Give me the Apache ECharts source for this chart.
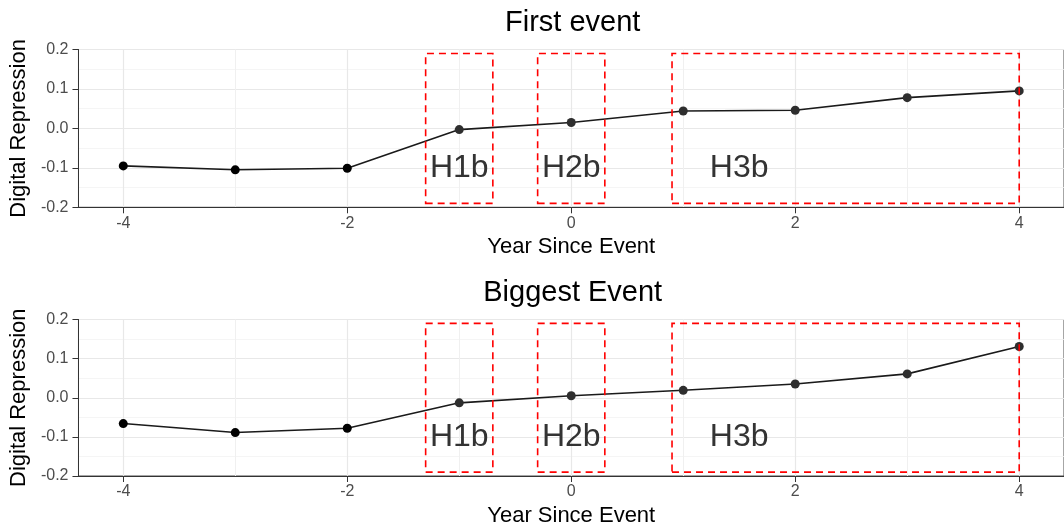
<!DOCTYPE html>
<html>
<head>
<meta charset="utf-8">
<script src="https://cdn.jsdelivr.net/npm/echarts@6/dist/echarts.min.js"></script>
<style>
html,body{margin:0;padding:0;background:#fff;}
#chart{width:1064px;height:528px;}
</style>
</head>
<body>
<div id="chart"></div>
<script>
// ---- data ----
const years = [-4, -3, -2, -1, 0, 1, 2, 3, 4];
const firstEvent = [-0.095, -0.105, -0.101, -0.003, 0.015, 0.044, 0.046, 0.078, 0.095];
const biggestEvent = [-0.066, -0.089, -0.078, -0.013, 0.005, 0.019, 0.035, 0.061, 0.131];
const panelTitles = ['First event', 'Biggest Event'];
const xTickValues = [-4, -2, 0, 2, 4];
const xMinorGrid = [-3, -1, 1, 3];
const yTickLabels = ['-0.2', '-0.1', '0.0', '0.1', '0.2'];
const boxLabels = ['H1b', 'H2b', 'H3b'];
const boxFrom = [-1.3, -0.3, 0.9];
const boxTo = [-0.7, 0.3, 4.0];
const boxLabelX = [-1, 0, 1.5];
const boxYRange = [-0.19, 0.19];
const boxLabelY = -0.1;
const xTitle = 'Year Since Event';
const yTitle = 'Digital Repression';

// ---- layout ----
const FONT = '"Liberation Sans", Arial, sans-serif';
const panelTop = [49.5, 319.5];
const plotLeft = 77.7;
const plotWidth = 990;
const plotHeight = 157.8;
const panelValues = [firstEvent, biggestEvent];

const chart = echarts.init(document.getElementById('chart'), null, {renderer: 'canvas'});

const grids = [], xAxes = [], yAxes = [], series = [], graphics = [];
for (let p = 0; p < 2; p++) {
  grids.push({left: plotLeft, top: panelTop[p], width: plotWidth, height: plotHeight,
    show: true, borderColor: '#4d4d4d', borderWidth: 1, backgroundColor: 'transparent', containLabel: false});
  xAxes.push({
    type: 'value', gridIndex: p, min: -4.4, max: 4.4,
    name: xTitle, nameLocation: 'middle', nameGap: 29,
    nameTextStyle: {fontFamily: FONT, fontSize: 22, color: '#000'},
    axisLine: {show: true, onZero: false, lineStyle: {color: '#333', width: 1}},
    axisTick: {show: true, length: 6, customValues: xTickValues, lineStyle: {color: '#333'}},
    axisLabel: {show: true, customValues: xTickValues, margin: 8, fontFamily: FONT, fontSize: 16, color: '#4d4d4d',
      formatter: v => String(v)},
    splitLine: {show: false}
  });
  yAxes.push({
    type: 'value', gridIndex: p, min: -0.2, max: 0.2, interval: 0.1,
    name: yTitle, nameLocation: 'middle', nameGap: 41, nameRotate: 90,
    nameTextStyle: {fontFamily: FONT, fontSize: 22, color: '#000'},
    axisLine: {show: true, onZero: false, lineStyle: {color: '#333', width: 1}},
    axisTick: {show: true, length: 6, lineStyle: {color: '#333'}},
    axisLabel: {margin: 10, fontFamily: FONT, fontSize: 16, color: '#4d4d4d',
      formatter: v => { const r = Math.round(v * 10); return yTickLabels[r + 2]; }},
    splitLine: {show: true, lineStyle: {color: '#e8e8e8', width: 1.2}},
    minorTick: {show: false, splitNumber: 2},
    minorSplitLine: {show: true, lineStyle: {color: '#f2f2f2', width: 0.8}}
  });
  // vertical gridlines (drawn underneath everything)
  series.push({
    type: 'line', xAxisIndex: p, yAxisIndex: p, data: [], silent: true, z: 0,
    markLine: {
      silent: true, z: 0, symbol: ['none', 'none'], label: {show: false}, animation: false,
      emphasis: {disabled: true},
      data: xTickValues.map(v => ({xAxis: v, lineStyle: {color: '#e8e8e8', width: 1.2, type: 'solid'}}))
        .concat(xMinorGrid.map(v => ({xAxis: v, lineStyle: {color: '#f0f0f0', width: 1, type: 'solid'}})))
    }
  });
  // data line
  series.push({
    type: 'line', xAxisIndex: p, yAxisIndex: p, z: 6,
    data: years.map((y, i) => ({
      value: [y, panelValues[p][i]],
      itemStyle: {color: y < -1 ? '#000000' : '#2e2e2e', borderWidth: 0, opacity: 1}
    })),
    symbol: 'circle', symbolSize: 9, showSymbol: true,
    lineStyle: {color: '#1a1a1a', width: 1.6},
    itemStyle: {color: '#1a1a1a', borderWidth: 0, opacity: 1},
    emphasis: {disabled: true}, animation: false
  });
  // boxes with labels
  series.push({
    type: 'scatter', xAxisIndex: p, yAxisIndex: p, z: 7, silent: true,
    data: boxLabels.map((n, i) => [boxLabelX[i], boxLabelY, n]),
    symbolSize: 0,
    itemStyle: {opacity: 1},
    label: {show: true, position: 'inside', formatter: q => q.value[2],
      fontFamily: FONT, fontSize: 32, color: '#333333', opacity: 1},
    emphasis: {disabled: true},
    markArea: {
      silent: true, z: 8, label: {show: false},
      itemStyle: {color: 'rgba(0,0,0,0)', borderColor: '#ff0000', borderWidth: 1.6, borderType: [7, 5], opacity: 1},
      emphasis: {disabled: true},
      data: boxLabels.map((n, i) => [{coord: [boxFrom[i], boxYRange[0]]}, {coord: [boxTo[i], boxYRange[1]]}])
    },
    animation: false
  });
  graphics.push({
    type: 'text', x: plotLeft + plotWidth / 2, y: panelTop[p] - 26.5,
    style: {text: panelTitles[p], font: '29px ' + FONT, fill: '#000', textAlign: 'center', textVerticalAlign: 'middle'}
  });
}

chart.setOption({
  animation: false,
  grid: grids, xAxis: xAxes, yAxis: yAxes, series: series, graphic: graphics
});
</script>
</body>
</html>
